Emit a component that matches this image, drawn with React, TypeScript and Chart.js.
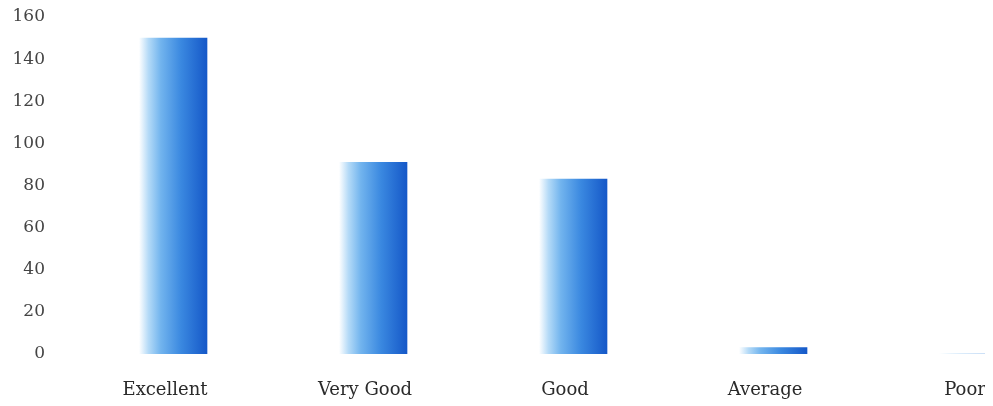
import React, { useEffect, useRef } from "react";
import { Chart, registerables } from "chart.js";

Chart.register(...registerables);

const categories = ["Excellent", "Very Good", "Good", "Average", "Poor"];
const values = [150, 91, 83, 3, 0];
const yMin = 0;
const yMax = 160;
const yStep = 20;

export default function App() {
  const ref = useRef<HTMLCanvasElement | null>(null);

  useEffect(() => {
    const canvas = ref.current;
    if (!canvas) return;
    const barW = 68;
    const chart = new Chart(canvas, {
      type: "bar",
      data: {
        labels: categories,
        datasets: [
          {
            data: values,
            barThickness: barW,
            borderWidth: 0,
            backgroundColor: (ctx: any) => {
              const c = ctx.chart;
              const xs = c.scales && c.scales.x;
              if (!xs || ctx.dataIndex === undefined) return "#2f7fdc";
              const cx = xs.getPixelForValue(ctx.dataIndex);
              if (!Number.isFinite(cx)) return "#2f7fdc";
              const g = c.ctx.createLinearGradient(cx - barW / 2, 0, cx + barW / 2, 0);
              g.addColorStop(0, "rgba(255,255,255,1)");
              g.addColorStop(0.14, "#b4daf7");
              g.addColorStop(0.32, "#72b4ee");
              g.addColorStop(0.62, "#3a88e0");
              g.addColorStop(1, "#1558c8");
              return g;
            },
          },
        ],
      },
      options: {
        responsive: false,
        animation: false,
        layout: { padding: { top: 9, bottom: 0, left: 0, right: 0 } },
        plugins: { legend: { display: false }, tooltip: { enabled: false } },
        scales: {
          x: {
            grid: { display: false, drawTicks: false },
            border: { display: false },
            ticks: {
              padding: 26,
              labelOffset: -8,
              color: "#2a2a2a",
              font: { family: "DejaVu Serif", size: 18 },
            },
            afterFit: (s: any) => {
              s.height = 52;
            },
          },
          y: {
            min: yMin,
            max: yMax,
            grid: { display: false, drawTicks: false },
            border: { display: false },
            ticks: {
              stepSize: yStep,
              padding: 28,
              color: "#444",
              font: { family: "DejaVu Serif", size: 17 },
            },
            afterFit: (s: any) => {
              s.width = 65;
              s.paddingTop = 8;
              s.paddingBottom = 8;
            },
          },
        },
      },
    });
    return () => chart.destroy();
  }, []);

  return (
    <div style={{ width: 985, height: 398, overflow: "hidden", background: "#fff" }}>
      <canvas ref={ref} width={1065} height={398} style={{ display: "block" }} />
    </div>
  );
}
